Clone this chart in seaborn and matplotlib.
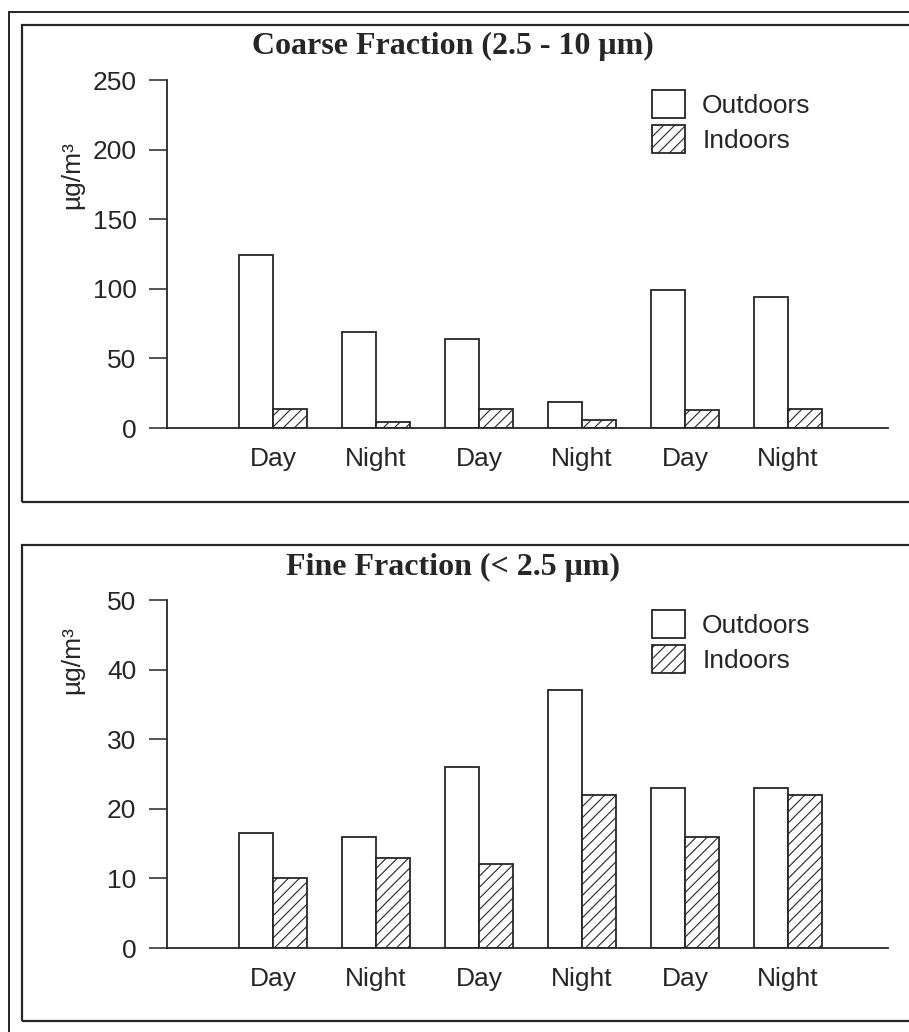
import pandas as pd
import seaborn as sns
import matplotlib.pyplot as plt
from matplotlib.patches import Patch, Rectangle
from matplotlib.lines import Line2D

periods = ["Day", "Night", "Day", "Night", "Day", "Night"]
coarse_outdoors = [124, 69, 64, 19, 99, 94]
coarse_indoors = [14, 4, 14, 6, 13, 14]
fine_outdoors = [16.5, 16, 26, 37, 23, 23]
fine_indoors = [10, 13, 12, 22, 16, 22]
series = ["Outdoors", "Indoors"]

sns.set_theme(style="white")
plt.rcParams["font.family"] = ["Liberation Sans", "DejaVu Sans"]
plt.rcParams["hatch.linewidth"] = 0.8
ink = "#262626"

W, H = 909, 1032
fig = plt.figure(figsize=(W / 100, H / 100), dpi=100)


def px(x0, y0, x1, y1):
    # pixel box (top-left origin) -> figure fraction rect
    return [x0 / W, 1 - y1 / H, (x1 - x0) / W, (y1 - y0) / H]


def panel(rect, outdoors, indoors, ymax, step, title, title_y, leg_top, ylab_y):
    ax = fig.add_axes(rect)
    df = pd.DataFrame({
        "slot": list(range(len(periods))) * 2,
        "value": outdoors + indoors,
        "where": [series[0]] * len(outdoors) + [series[1]] * len(indoors),
    })
    sns.barplot(data=df, x="slot", y="value", hue="where", hue_order=series,
                palette=["white", "white"], width=0.66, edgecolor=ink,
                linewidth=1.3, legend=False, ax=ax)
    for bar in ax.containers[1]:
        bar.set_hatch("///")
    ax.set_xlim(-1.03, 5.97)
    ax.set_ylim(0, ymax)
    ax.set_yticks(range(0, ymax + 1, step))
    ax.set_xticks(range(len(periods)))
    ax.set_xticklabels(periods)
    ax.set_xlabel("")
    ax.set_ylabel("")
    sns.despine(ax=ax)
    for s in ["left", "bottom"]:
        ax.spines[s].set_color(ink)
        ax.spines[s].set_linewidth(1.3)
    ax.tick_params(axis="y", length=13, width=1.1, color=ink, pad=9,
                   labelsize=19, labelcolor=ink, left=True)
    ax.tick_params(axis="x", length=0, pad=14, labelsize=19, labelcolor=ink)
    ax.set_facecolor("white")

    fig.text(453 / W, 1 - title_y / H, title, ha="center", va="center",
             fontsize=23, fontweight="bold", color=ink,
             family=["Liberation Serif", "DejaVu Serif"])
    fig.text(72 / W, 1 - ylab_y / H, "µg/m³", rotation=90, ha="center",
             va="center", fontsize=19, color=ink)

    handles = [Patch(facecolor="white", edgecolor=ink, linewidth=1.3),
               Patch(facecolor="white", edgecolor=ink, linewidth=1.3, hatch="///")]
    fig.legend(handles, series, loc="upper left",
               bbox_to_anchor=(652 / W, 1 - leg_top / H), frameon=False,
               fontsize=19, handlelength=1.25, handleheight=1.25,
               handletextpad=0.65, labelspacing=0.28, borderpad=0,
               borderaxespad=0, labelcolor=ink)
    return ax


panel(px(167, 80, 888, 428), coarse_outdoors, coarse_indoors, 250, 50,
      "Coarse Fraction (2.5 - 10 μm)", 46, 90, 175)
panel(px(167, 600, 888, 948), fine_outdoors, fine_indoors, 50, 10,
      "Fine Fraction (< 2.5 μm)", 567, 610, 660)

# panel frames and outer scan frame
for y0, y1 in [(25, 502), (545, 1021)]:
    fig.patches.append(Rectangle((22 / W, 1 - y1 / H), 1, (y1 - y0) / H,
                                 transform=fig.transFigure, fill=False,
                                 edgecolor=ink, linewidth=1.6))
fig.lines.append(Line2D([9 / W, 9 / W], [0, 1 - 12 / H], transform=fig.transFigure,
                        color=ink, linewidth=1.4))
fig.lines.append(Line2D([9 / W, 1], [1 - 12 / H, 1 - 12 / H], transform=fig.transFigure,
                        color=ink, linewidth=1.4))

fig.savefig("out.png", dpi=100, facecolor="white")
